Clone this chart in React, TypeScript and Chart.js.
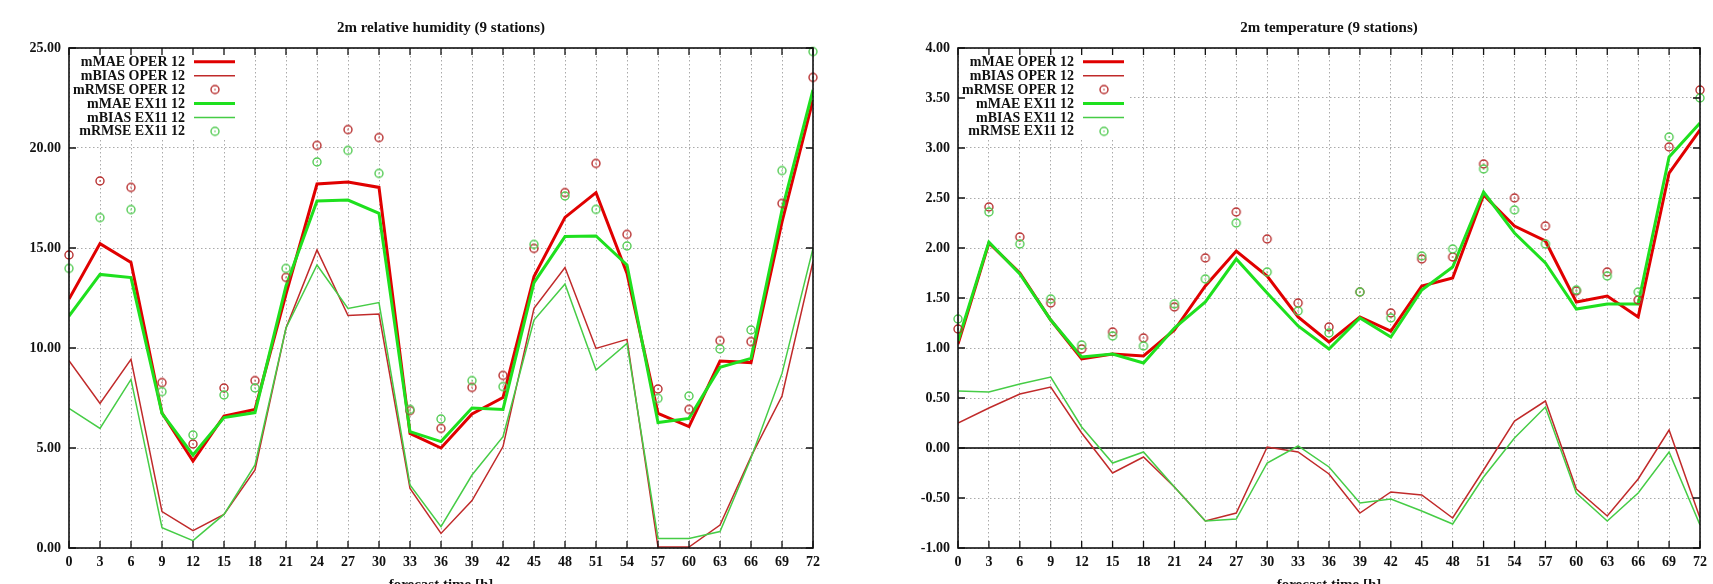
import { useEffect, useRef } from 'react';
import { Chart, registerables } from 'chart.js';

Chart.register(...registerables);

// ---------- data ----------
const hours = [0, 3, 6, 9, 12, 15, 18, 21, 24, 27, 30, 33, 36, 39, 42, 45, 48, 51, 54, 57, 60, 63, 66, 69, 72];

// 2m relative humidity
const rhMaeOper = [12.45, 15.22, 14.28, 6.75, 4.35, 6.6, 6.93, 12.7, 18.2, 18.3, 18.03, 5.73, 5.0, 6.7, 7.52, 13.57, 16.53, 17.77, 13.73, 6.73, 6.07, 9.35, 9.27, 16.3, 22.4];
const rhBiasOper = [9.37, 7.23, 9.43, 1.82, 0.87, 1.68, 3.9, 11.0, 14.9, 11.62, 11.7, 2.98, 0.73, 2.37, 5.07, 11.98, 14.02, 9.98, 10.43, 0.05, 0.05, 1.15, 4.57, 7.6, 14.32];
const rhRmseOper = [14.65, 18.35, 18.03, 8.27, 5.2, 8.0, 8.37, 13.53, 20.13, 20.92, 20.52, 6.87, 5.98, 8.03, 8.63, 14.98, 17.77, 19.23, 15.68, 7.95, 6.93, 10.37, 10.32, 17.23, 23.53];
const rhMaeEx = [11.6, 13.68, 13.52, 6.73, 4.65, 6.52, 6.77, 13.1, 17.35, 17.4, 16.73, 5.82, 5.32, 7.0, 6.93, 13.27, 15.57, 15.6, 14.15, 6.27, 6.48, 9.03, 9.48, 16.9, 22.9];
const rhBiasEx = [6.98, 5.98, 8.43, 1.02, 0.37, 1.68, 4.15, 11.0, 14.15, 11.98, 12.27, 3.15, 1.07, 3.65, 5.57, 11.4, 13.2, 8.9, 10.23, 0.48, 0.48, 0.82, 4.5, 8.73, 14.98];
const rhRmseEx = [13.98, 16.52, 16.92, 7.82, 5.65, 7.65, 8.0, 13.98, 19.3, 19.88, 18.73, 6.93, 6.45, 8.37, 8.07, 15.18, 17.6, 16.93, 15.1, 7.48, 7.6, 9.95, 10.9, 18.87, 24.82];

// 2m temperature
const tMaeOper = [1.04, 2.05, 1.75, 1.28, 0.89, 0.94, 0.92, 1.18, 1.62, 1.97, 1.72, 1.31, 1.06, 1.31, 1.17, 1.62, 1.7, 2.53, 2.22, 2.07, 1.46, 1.52, 1.31, 2.75, 3.18];
const tBiasOper = [0.25, 0.4, 0.54, 0.61, 0.15, -0.25, -0.09, -0.39, -0.73, -0.65, 0.01, -0.04, -0.26, -0.65, -0.44, -0.47, -0.7, -0.22, 0.27, 0.47, -0.41, -0.68, -0.31, 0.18, -0.7];
const tRmseOper = [1.19, 2.41, 2.11, 1.45, 0.99, 1.16, 1.1, 1.41, 1.9, 2.36, 2.09, 1.45, 1.21, 1.56, 1.35, 1.89, 1.91, 2.84, 2.5, 2.22, 1.57, 1.76, 1.48, 3.01, 3.58];
const tMaeEx = [1.07, 2.06, 1.74, 1.28, 0.91, 0.94, 0.85, 1.2, 1.46, 1.89, 1.55, 1.22, 0.99, 1.3, 1.11, 1.58, 1.81, 2.56, 2.15, 1.85, 1.39, 1.44, 1.44, 2.91, 3.25];
const tBiasEx = [0.57, 0.56, 0.64, 0.71, 0.21, -0.15, -0.04, -0.39, -0.73, -0.71, -0.15, 0.02, -0.19, -0.55, -0.51, -0.63, -0.76, -0.29, 0.1, 0.41, -0.45, -0.73, -0.45, -0.04, -0.77];
const tRmseEx = [1.29, 2.36, 2.04, 1.49, 1.03, 1.12, 1.02, 1.44, 1.69, 2.25, 1.76, 1.37, 1.15, 1.56, 1.3, 1.92, 1.99, 2.79, 2.38, 2.04, 1.58, 1.72, 1.56, 3.11, 3.5];

const legendLabels = ['mMAE OPER 12', 'mBIAS OPER 12', 'mRMSE OPER 12', 'mMAE EX11 12', 'mBIAS EX11 12', 'mRMSE EX11 12'];
const xTitle = 'forecast time [h]';

// ---------- styles ----------
const C_MAE_OPER = '#e00000';
const C_BIAS_OPER = '#c02a2a';
const C_RMSE_OPER = '#b83030';
const C_MAE_EX = '#1ee01e';
const C_BIAS_EX = '#46cc46';
const C_RMSE_EX = '#55cc55';
const FONT = '"Liberation Serif", "DejaVu Serif", serif';

function makeMarker(color: string): HTMLCanvasElement {
  const c = document.createElement('canvas');
  c.width = 12;
  c.height = 12;
  const g = c.getContext('2d')!;
  g.strokeStyle = color;
  g.lineWidth = 1.4;
  g.beginPath();
  g.arc(6, 6, 4, 0, Math.PI * 2);
  g.stroke();
  g.fillStyle = color;
  g.globalAlpha = 0.6;
  g.beginPath();
  g.arc(6, 6, 1, 0, Math.PI * 2);
  g.fill();
  return c;
}

const pts = (vals: number[]) => hours.map((h, i) => ({ x: h, y: vals[i] }));

type PanelSpec = {
  title: string;
  left: number;
  width: number;
  yAxisWidth: number;
  padRight: number;
  yMin: number;
  yMax: number;
  yStep: number;
  zeroLine: boolean;
  mae1: number[];
  bias1: number[];
  rmse1: number[];
  mae2: number[];
  bias2: number[];
  rmse2: number[];
};

function Panel({ spec }: { spec: PanelSpec }) {
  const ref = useRef<HTMLCanvasElement>(null);
  useEffect(() => {
    const m1 = makeMarker(C_RMSE_OPER);
    const m2 = makeMarker(C_RMSE_EX);
    const legendStyles = [
      { kind: 'line', color: C_MAE_OPER, w: 3 },
      { kind: 'line', color: C_BIAS_OPER, w: 1.5 },
      { kind: 'pt', img: m1 },
      { kind: 'line', color: C_MAE_EX, w: 3 },
      { kind: 'line', color: C_BIAS_EX, w: 1.5 },
      { kind: 'pt', img: m2 },
    ] as any[];

    const plugin = {
      id: 'gnuframe',
      beforeDatasetsDraw(chart: any) {
        const { ctx, chartArea: a, scales } = chart;
        ctx.save();
        if (spec.zeroLine) {
          const y0 = scales.y.getPixelForValue(0);
          ctx.strokeStyle = '#000';
          ctx.lineWidth = 1.6;
          ctx.beginPath();
          ctx.moveTo(a.left, y0);
          ctx.lineTo(a.right, y0);
          ctx.stroke();
        }
        // legend box
        ctx.fillStyle = '#fff';
        ctx.fillRect(a.left + 1, a.top + 1, 171, 90);
        ctx.font = 'bold 14px ' + FONT;
        ctx.textAlign = 'right';
        ctx.textBaseline = 'middle';
        legendLabels.forEach((lab, i) => {
          const y = a.top + 13.7 + i * 13.93;
          ctx.fillStyle = '#111';
          ctx.fillText(lab, a.left + 116, y + 0.5);
          const st = legendStyles[i];
          if (st.kind === 'line') {
            ctx.strokeStyle = st.color;
            ctx.lineWidth = st.w;
            ctx.beginPath();
            ctx.moveTo(a.left + 125, y);
            ctx.lineTo(a.left + 166, y);
            ctx.stroke();
          } else {
            ctx.drawImage(st.img, a.left + 146 - 6, y - 6);
          }
        });
        ctx.restore();
      },
      afterDraw(chart: any) {
        const { ctx, chartArea: a, scales } = chart;
        ctx.save();
        ctx.strokeStyle = '#111';
        ctx.lineWidth = 1.6;
        ctx.strokeRect(a.left, a.top, a.right - a.left, a.bottom - a.top);
        ctx.lineWidth = 1.3;
        ctx.beginPath();
        scales.x.ticks.forEach((t: any) => {
          const x = scales.x.getPixelForValue(t.value);
          ctx.moveTo(x, a.bottom);
          ctx.lineTo(x, a.bottom - 7);
          ctx.moveTo(x, a.top);
          ctx.lineTo(x, a.top + 7);
        });
        scales.y.ticks.forEach((t: any) => {
          const y = scales.y.getPixelForValue(t.value);
          ctx.moveTo(a.left, y);
          ctx.lineTo(a.left + 7, y);
          ctx.moveTo(a.right, y);
          ctx.lineTo(a.right - 7, y);
        });
        ctx.stroke();
        ctx.fillStyle = '#111';
        ctx.font = 'bold 15px ' + FONT;
        ctx.textAlign = 'center';
        ctx.textBaseline = 'alphabetic';
        const cx = (a.left + a.right) / 2;
        ctx.fillText(spec.title, cx, 31.5);
        ctx.fillText(xTitle, cx, 589);
        ctx.restore();
      },
    };

    const tickFont = { family: FONT, size: 14, weight: 'bold' as const };
    const chart = new Chart(ref.current!, {
      type: 'line',
      data: {
        datasets: [
          { label: legendLabels[5], data: pts(spec.rmse2), showLine: false, pointStyle: m2 as any, pointRadius: 6, clip: false as any },
          { label: legendLabels[2], data: pts(spec.rmse1), showLine: false, pointStyle: m1 as any, pointRadius: 6, clip: false as any },
          { label: legendLabels[3], data: pts(spec.mae2), borderColor: C_MAE_EX, borderWidth: 3, pointRadius: 0, tension: 0 },
          { label: legendLabels[4], data: pts(spec.bias2), borderColor: C_BIAS_EX, borderWidth: 1.5, pointRadius: 0, tension: 0 },
          { label: legendLabels[0], data: pts(spec.mae1), borderColor: C_MAE_OPER, borderWidth: 3, pointRadius: 0, tension: 0 },
          { label: legendLabels[1], data: pts(spec.bias1), borderColor: C_BIAS_OPER, borderWidth: 1.5, pointRadius: 0, tension: 0 },
        ],
      },
      options: {
        responsive: false,
        animation: false,
        events: [],
        layout: { padding: { left: 0, top: 48, right: spec.padRight, bottom: 0 } },
        plugins: { legend: { display: false }, title: { display: false }, tooltip: { enabled: false } },
        scales: {
          x: {
            type: 'linear',
            min: 0,
            max: 72,
            afterFit: (s: any) => {
              s.height = 36;
            },
            ticks: { stepSize: 3, autoSkip: false, maxRotation: 0, padding: 6, color: '#111', font: tickFont, callback: (v: any) => String(v) },
            grid: { color: '#aaaaaa', lineWidth: 1, drawTicks: false },
            border: { display: false, dash: [1.5, 2.5] },
          },
          y: {
            type: 'linear',
            min: spec.yMin,
            max: spec.yMax,
            afterFit: (s: any) => {
              s.width = spec.yAxisWidth;
            },
            ticks: { stepSize: spec.yStep, padding: 8, color: '#111', font: tickFont, callback: (v: any) => Number(v).toFixed(2) },
            grid: { color: '#aaaaaa', lineWidth: 1, drawTicks: false },
            border: { display: false, dash: [1.5, 2.5] },
          },
        },
      } as any,
      plugins: [plugin],
    });
    return () => chart.destroy();
  }, [spec]);
  return (
    <canvas
      ref={ref}
      width={spec.width}
      height={584}
      style={{ position: 'absolute', left: spec.left, top: 0, width: spec.width, height: 584 }}
    />
  );
}

const leftSpec: PanelSpec = {
  title: '2m relative humidity (9 stations)',
  left: 0,
  width: 856,
  yAxisWidth: 69,
  padRight: 43,
  yMin: 0,
  yMax: 25,
  yStep: 5,
  zeroLine: false,
  mae1: rhMaeOper,
  bias1: rhBiasOper,
  rmse1: rhRmseOper,
  mae2: rhMaeEx,
  bias2: rhBiasEx,
  rmse2: rhRmseEx,
};

const rightSpec: PanelSpec = {
  title: '2m temperature (9 stations)',
  left: 856,
  width: 857,
  yAxisWidth: 102,
  padRight: 11,
  yMin: -1,
  yMax: 4,
  yStep: 0.5,
  zeroLine: true,
  mae1: tMaeOper,
  bias1: tBiasOper,
  rmse1: tRmseOper,
  mae2: tMaeEx,
  bias2: tBiasEx,
  rmse2: tRmseEx,
};

export default function App() {
  return (
    <div style={{ position: 'fixed', left: 0, top: 0, width: 1713, height: 584, background: '#fff', overflow: 'hidden' }}>
      <Panel spec={leftSpec} />
      <Panel spec={rightSpec} />
    </div>
  );
}
